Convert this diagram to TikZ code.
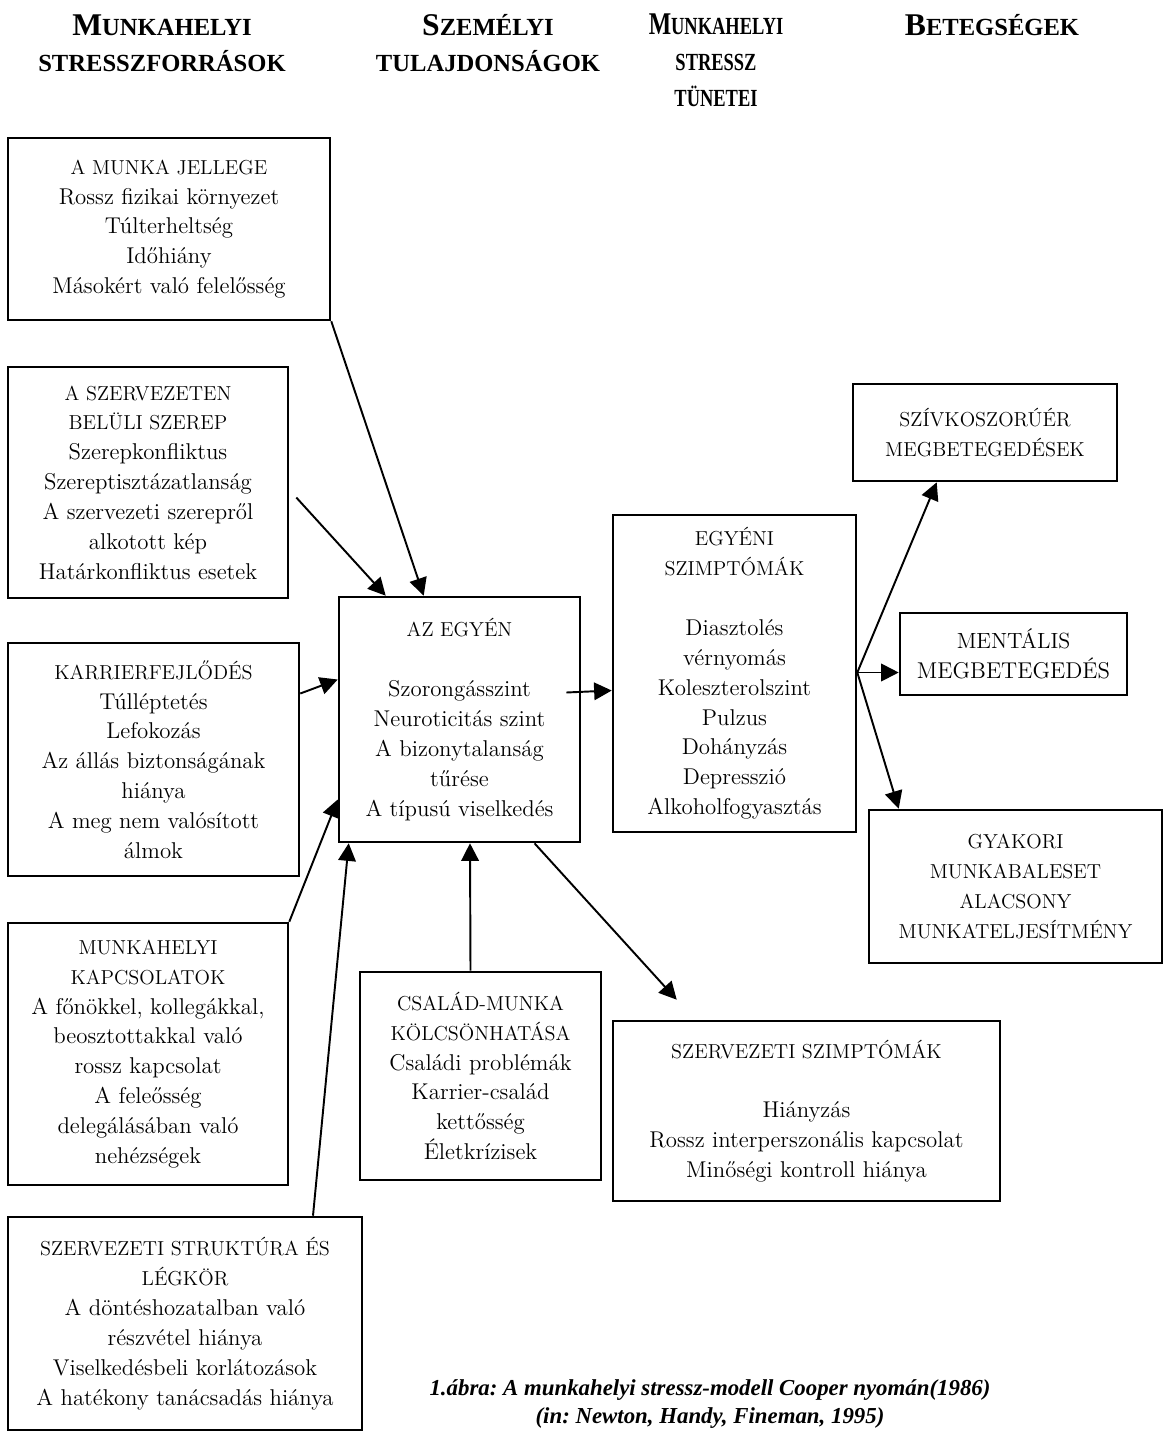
\documentclass[tikz,border=0pt]{standalone}
\usepackage{fontspec}
\usepackage{graphicx}
\usetikzlibrary{arrows.meta,calc}
\newfontfamily\headfont{Liberation Serif}
\newcommand\nagy[1]{{\fontsize{11.5}{17}\selectfont #1}}
\newcommand\fejkap[2]{{\fontsize{18}{21}\selectfont #1}{\fontsize{14}{21}\selectfont #2}}

\tikzset{
  doboz/.style={draw, line width=1.5pt, align=center, inner sep=2pt, font=\fontsize{13}{17}\selectfont},
  nyil/.style={-{Triangle[length=10pt,width=10pt]}, line width=1.1pt},
  fejlec/.style={align=center, font=\headfont\bfseries\fontsize{14}{20.5}\selectfont}
}

\begin{document}
\begin{tikzpicture}[x=0.02cm,y=-0.02cm]
  \useasboundingbox (0,0) rectangle (1166,1431);

  % fejlec
  \node[fejlec] (fej1) at (162,43) {\fejkap{M}{UNKAHELYI}\\STRESSZFORRÁSOK};
  \node[fejlec] (fej2) at (488,43) {\fejkap{S}{ZEMÉLYI}\\TULAJDONSÁGOK};
  \node[fejlec] (fej3) at (716,60) {\scalebox{0.75}[1]{\fejkap{M}{UNKAHELYI}}\\\scalebox{0.75}[1]{STRESSZ}\\\scalebox{0.75}[1]{TÜNETEI}};
  \node[fejlec] (fej4) at (992,25) {\fejkap{B}{ETEGSÉGEK}};

  % stresszforrasok
  \node[doboz, minimum width=6.44cm, minimum height=3.64cm] (jelleg) at (169,229)
    {\nagy{A MUNKA JELLEGE}\\Rossz fizikai környezet\\Túlterheltség\\Időhiány\\Másokért való felelősség};
  \node[doboz, minimum width=5.6cm, minimum height=4.62cm] (szerep) at (148,482.5)
    {\nagy{A SZERVEZETEN}\\\nagy{BELÜLI SZEREP}\\Szerepkonfliktus\\Szereptisztázatlanság\\A szervezeti szerepről\\alkotott kép\\Határkonfliktus esetek};
  \node[doboz, minimum width=5.82cm, minimum height=4.66cm] (karrier) at (153.5,759.5)
    {\nagy{KARRIERFEJLŐDÉS}\\Túlléptetés\\Lefokozás\\Az állás biztonságának\\hiánya\\A meg nem valósított\\álmok};
  \node[doboz, minimum width=5.6cm, minimum height=5.24cm] (kapcsolat) at (148,1054)
    {\nagy{MUNKAHELYI}\\\nagy{KAPCSOLATOK}\\A főnökkel, kollegákkal,\\beosztottakkal való\\rossz kapcsolat\\A feleősség\\delegálásában való\\nehézségek};
  \node[doboz, minimum width=7.08cm, minimum height=4.26cm] (struktura) at (185,1323.5)
    {\nagy{SZERVEZETI STRUKTÚRA ÉS}\\\nagy{LÉGKÖR}\\A döntéshozatalban való\\részvétel hiánya\\Viselkedésbeli korlátozások\\A hatékony tanácsadás hiánya};

  % szemelyi tulajdonsagok
  \node[doboz, minimum width=4.82cm, minimum height=4.9cm] (egyen) at (459.5,719.5)
    {\nagy{AZ EGYÉN}\\[17pt]Szorongásszint\\Neuroticitás szint\\A bizonytalanság\\tűrése\\A típusú viselkedés};
  \node[doboz, minimum width=4.82cm, minimum height=4.16cm] (csalad) at (480.5,1076)
    {\nagy{CSALÁD-MUNKA}\\\nagy{KÖLCSÖNHATÁSA}\\Családi problémák\\Karrier-család\\kettősség\\Életkrízisek};

  % tunetek
  \node[doboz, minimum width=4.86cm, minimum height=6.34cm] (egyeni) at (734.5,673.5)
    {\nagy{EGYÉNI}\\\nagy{SZIMPTÓMÁK}\\[17pt]Diasztolés\\vérnyomás\\Koleszterolszint\\Pulzus\\Dohányzás\\Depresszió\\Alkoholfogyasztás};
  \node[doboz, minimum width=7.74cm, minimum height=3.6cm] (szervezeti) at (806.5,1111)
    {\nagy{SZERVEZETI SZIMPTÓMÁK}\\[17pt]Hiányzás\\Rossz interperszonális kapcsolat\\Minőségi kontroll hiánya};

  % betegsegek
  \node[doboz, minimum width=5.28cm, minimum height=1.94cm] (sziv) at (985,432.5)
    {\nagy{SZÍVKOSZORÚÉR}\\\nagy{MEGBETEGEDÉSEK}};
  \node[doboz, minimum width=4.54cm, minimum height=1.64cm] (mentalis) at (1013.5,654)
    {\fontsize{12.5}{17}\selectfont MENTÁLIS\\MEGBETEGEDÉS};
  \node[doboz, minimum width=5.86cm, minimum height=3.06cm] (gyakori) at (1015.5,886.5)
    {\nagy{GYAKORI}\\\nagy{MUNKABALESET}\\\nagy{ALACSONY}\\\nagy{MUNKATELJESÍTMÉNY}};

  \node[font=\headfont\bfseries\itshape\fontsize{13}{16}\selectfont\frenchspacing, align=center] (abra) at (710,1404)
    {1.ábra: A munkahelyi stressz-modell Cooper nyomán(1986)\\(in: Newton, Handy, Fineman, 1995)};

  % nyilak
  \coordinate (szerepki) at ($(szerep.east)+(7,15)$);
  \coordinate (elagazas) at ($(egyeni.east)+(0,-1)$);
  \coordinate (szervbe) at ($(szervezeti.north west)+(65,-20)$);

  \draw[nyil] (jelleg.south east) -- ($(egyen.north west)+(86,0)$);
  \draw[nyil] (szerepki) -- ($(egyen.north west)+(48,0)$);
  \draw[nyil] ($(karrier.east)+(0,-66)$) -- ($(egyen.west)+(0,-40)$);
  \draw[nyil] (kapcsolat.north east) -- ($(egyen.west)+(0,80)$);
  \draw[nyil] ($(struktura.north)+(128,0)$) -- ($(egyen.south west)+(11,0)$);
  \draw[nyil] ($(csalad.north)+(-10,0)$) -- ($(egyen.south)+(10.5,0)$);
  \draw[nyil] ($(egyen.south)+(75,0)$) -- (szervbe);
  \draw[nyil] ($(egyen.east)+(-15,-27)$) -- ($(egyeni.west)+(0,17)$);
  \draw[nyil] (elagazas) -- ($(sziv.south west)+(85,0)$);
  \draw[nyil] (elagazas) -- (mentalis.west |- elagazas);
  \draw[nyil] (elagazas) -- ($(gyakori.north west)+(31,0)$);
\end{tikzpicture}
\end{document}
